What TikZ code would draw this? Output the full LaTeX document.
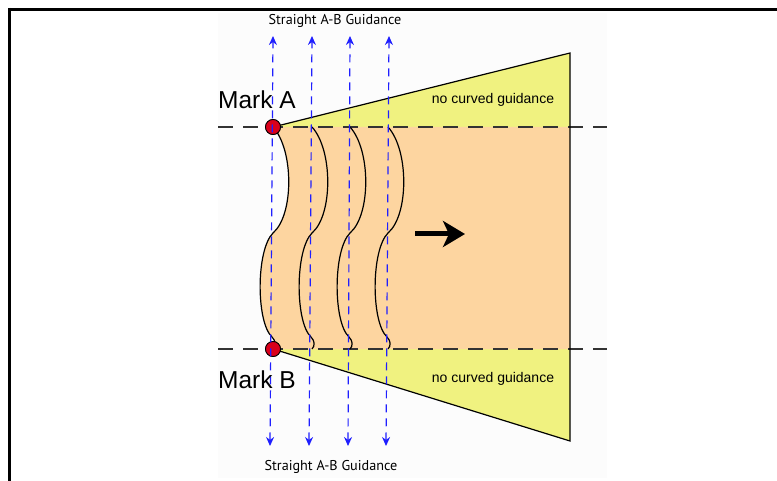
\documentclass[tikz,border=0pt]{standalone}
\usepackage{fontspec}
\setmainfont{Liberation Sans}
\newfontfamily\guidefont{PT Sans}
\usetikzlibrary{arrows.meta}
\definecolor{peach}{HTML}{FDD5A0}
\definecolor{lemon}{HTML}{F0F280}
\definecolor{markred}{HTML}{D9001B}
\definecolor{guideblue}{HTML}{1F1FFF}
\begin{document}
\begin{tikzpicture}[x=1pt,y=-1pt,
  frame/.style={line width=3pt,black},
  edge/.style={line width=1.2pt,black},
  wave/.style={line width=1.2pt,black},
  marker/.style={circle,draw=black,line width=0.8pt,fill=markred,minimum size=15pt,inner sep=0pt},
  refline/.style={line width=1.2pt,black!80,dash pattern=on 15pt off 10pt},
  guide/.style={line width=1.2pt,guideblue,dash pattern=on 8pt off 6pt,{Stealth[length=9pt,width=8pt]}-{Stealth[length=9pt,width=8pt]}},
  marklabel/.style={font=\fontsize{24.5}{28}\selectfont,inner sep=0pt,anchor=base west},
  zonelabel/.style={font=\fontsize{14}{16}\selectfont,inner sep=0pt},
  guidelabel/.style={font=\guidefont\fontsize{14.2}{16}\selectfont,inner sep=0pt}]
\useasboundingbox (0,0) rectangle (777,481);
% faint drawing area
\fill[black!1] (218,13) rectangle (607,478);
% frame
\draw[frame] (8,9.5) -- (777,9.5);
\draw[frame] (9.5,8) -- (9.5,481);
% zones
\fill[lemon] (273,127) -- (570,53) -- (570,127) -- cycle;
\fill[lemon] (273,349) -- (570,441) -- (570,349) -- cycle;
\fill[peach] (273,127) .. controls (294,150) and (294,215) .. (273,233)
  .. controls (256,250) and (256,322) .. (272,337)
  .. controls (276,341) and (276,346) .. (273,349) -- (570,349) -- (570,127) -- cycle;
% reference lines through marks
\coordinate (la) at (218,127); \coordinate (ra) at (607,127);
\coordinate (lb) at (218,349); \coordinate (rb) at (607,349);
\draw[refline] (la) -- (ra);
\draw[refline] (lb) -- (rb);
% outline
\coordinate (tr) at (570,53); \coordinate (br) at (570,441);
\node[marker] (A) at (273,127) {};
\node[marker] (B) at (273,349) {};
\draw[edge] (A.center) -- (tr) -- (br) -- (B.center);
% wavy curved passes
\foreach \x in {273,312,350,388}{
  \draw[wave] (\x,127) .. controls ({\x+21},150) and ({\x+21},215) .. (\x,233)
    .. controls ({\x-17},250) and ({\x-17},322) .. ({\x-1},337)
    .. controls ({\x+3},341) and ({\x+3},346) .. (\x,349);
}
\node[marker] at (273,127) {};
\node[marker] at (273,349) {};
% direction arrow
\coordinate (d1) at (415,234); \coordinate (d2) at (465,234);
\draw[line width=5pt,-{Stealth[length=22pt,width=26pt,inset=6pt]}] (d1) -- (d2);
% straight guidance lines
\foreach \i/\t/\b in {1/273/270,2/312/309,3/350/348,4/389/386}{
  \coordinate (t\i) at (\t,36);
  \coordinate (b\i) at (\b,446);
  \draw[guide] (b\i) -- (t\i);
}
% labels
\node[marklabel] (ma) at (218,109) {Mark A};
\node[marklabel] (mb) at (218,388) {Mark B};
\node[zonelabel] (za) at (493,100) {no curved guidance};
\node[zonelabel] (zb) at (493,379) {no curved guidance};
\node[guidelabel] (gt) at (335,21) {Straight A-B Guidance};
\node[guidelabel] (gb) at (331,467) {Straight A-B Guidance};
\end{tikzpicture}
\end{document}
